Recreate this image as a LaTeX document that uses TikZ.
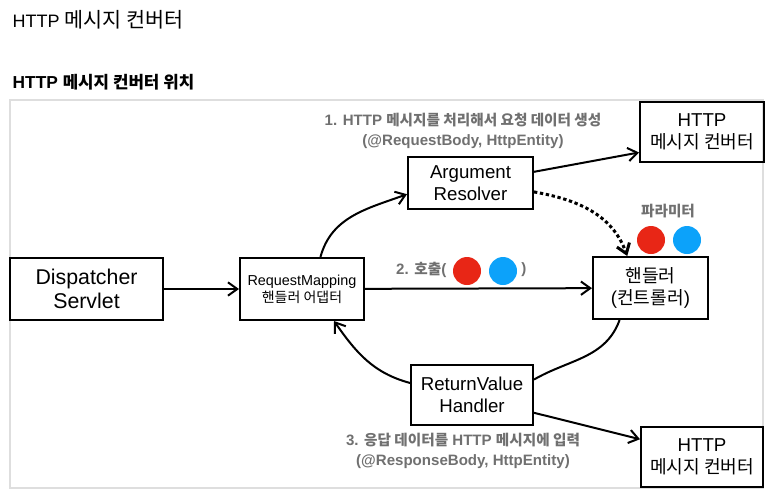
\documentclass[tikz,border=0pt]{standalone}
\usepackage{fontspec}
\setmainfont{Liberation Sans}
\newfontfamily\kr{Noto Sans CJK KR}[Scale=0.97]
\usetikzlibrary{arrows,arrows.meta,positioning}
\usepackage{xcolor}
\definecolor{red}{RGB}{232, 38, 22}
\definecolor{blue}{RGB}{12, 162, 250}
\definecolor{gray}{RGB}{112, 112, 112}
\definecolor{framegray}{RGB}{222, 222, 222}

\begin{document}
\begin{tikzpicture}[
        x=0.75pt, y=-0.75pt,
        >={Straight Barb[length=7pt, width=10pt]},
        box/.style={
            rectangle,
            draw,
            line width=1.5pt,
            inner sep=0pt,
            align=center,
            font=\fontsize{14}{16.5}\selectfont
        },
        note/.style={
            text=gray,
            align=center,
            font=\bfseries\fontsize{11.3}{15}\selectfont
        },
        dot/.style={
            circle,
            inner sep=0pt,
            minimum size=21pt
        },
        link/.style={line width=1.5pt}
    ]
        \useasboundingbox (0,0) rectangle (772,501);

        \node (title) [anchor=west, font=\fontsize{13.5}{16}\selectfont] at (8,20) {HTTP {\kr\fontsize{16}{16}\selectfont 메시지 컨버터}};
        \node (heading) [anchor=west, font=\bfseries\fontsize{13}{14}\selectfont] at (8,82) {HTTP {\kr 메시지 컨버터 위치}};

        \draw[framegray, line width=1.5pt] (10,100) rectangle (763,488);

        \node (dispatcher) [
            box,
            minimum width=114.75pt,
            minimum height=46.5pt,
            font=\fontsize{16}{18}\selectfont
        ] at (86.5,289) {Dispatcher\\Servlet};

        \node (mapping) [
            box,
            minimum width=93pt,
            minimum height=46.5pt,
            font=\fontsize{10.8}{13}\selectfont
        ] at (302,289) {RequestMapping\\{\kr 핸들러 어댑터}};

        \node (resolver) [
            box,
            minimum width=93.75pt,
            minimum height=39pt
        ] at (470.5,183) {Argument\\Resolver};

        \node (handler) [
            box,
            minimum width=86.25pt,
            minimum height=46.5pt
        ] at (650.5,288) {{\kr 핸들러}\\({\kr 컨트롤러})};

        \node (returnv) [
            box,
            minimum width=91.5pt,
            minimum height=45pt
        ] at (472,395) {ReturnValue\\Handler};

        \node (convtop) [
            box,
            minimum width=93pt,
            minimum height=45pt
        ] at (702,132) {HTTP\\{\kr 메시지 컨버터}};

        \node (convbot) [
            box,
            minimum width=91.5pt,
            minimum height=45pt
        ] at (702,457) {HTTP\\{\kr 메시지 컨버터}};

        % labels
        \node (step1) [note] at (463,131) {1. HTTP {\kr 메시지를 처리해서 요청 데이터 생성}\\(@RequestBody, HttpEntity)};
        \node (step3) [note] at (463,451) {3. {\kr 응답 데이터를} HTTP {\kr 메시지에 입력}\\(@ResponseBody, HttpEntity)};
        \node (params) [note] at (668,211) {\kr 파라미터};

        \node (call) [note, anchor=east] at (451,270) {2. {\kr 호출}(};
        \node (callred) [dot, fill=red] at (467,271) {};
        \node (callblue) [dot, fill=blue] at (503,271) {};
        \node (callend) [note] at (524,270) {)};

        \node (parred) [dot, fill=red] at (651,240) {};
        \node (parblue) [dot, fill=blue] at (687,240) {};

        % connectors
        \draw[link, ->] (dispatcher) -- (mapping);
        \draw[link, ->] (mapping) -- (handler);
        \draw[link, ->, out=75, in=200] (mapping.60) to (resolver.190);
        \draw[link, ->] (resolver.10) -- (convtop.198);
        \draw[line width=2.25pt, dash pattern=on 2.5pt off 2pt, ->, out=-10, in=110] (resolver.-8) to (handler.126);
        \draw[link, out=-110, in=30] (handler.-134) to (returnv.14);
        \draw[link, ->, out=165, in=-55] (returnv.169) to (mapping.-45);
        \draw[link, ->] (returnv.-16) -- (convbot.164);
    \end{tikzpicture}
\end{document}
